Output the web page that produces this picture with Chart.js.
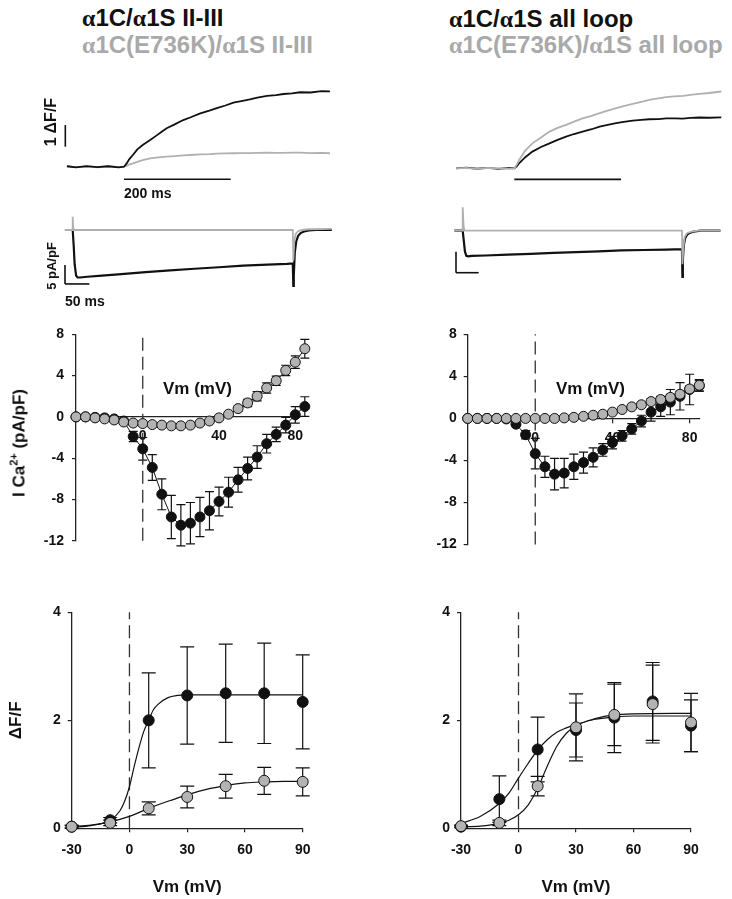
<!DOCTYPE html>
<html>
<head>
<meta charset="utf-8">
<script src="https://cdn.jsdelivr.net/npm/chart.js@4.4.1/dist/chart.umd.min.js"></script>
<style>
  body { margin: 0; background: #fff; width: 732px; height: 899px; position: relative; overflow: hidden;
         font-family: "Liberation Sans", Arial, sans-serif; font-weight: bold; color: #111; }
  canvas, .lbl { position: absolute; }
  .lbl { white-space: nowrap; line-height: 1; }
  .grey { color: #a9a9a9; }
  .rot { transform: translate(-50%, -50%) rotate(-90deg); }
  .al { font-family: "Liberation Serif", serif; }
  sup { font-size: 11px; line-height: 0; }
</style>
</head>
<body>
<canvas id="fluoL" width="300" height="130" style="left:40px;top:70px"></canvas>
<canvas id="fluoR" width="310" height="130" style="left:420px;top:70px"></canvas>
<canvas id="curL" width="300" height="100" style="left:40px;top:195px"></canvas>
<canvas id="curR" width="320" height="100" style="left:410px;top:195px"></canvas>
<canvas id="ivL" width="330" height="250" style="left:0;top:310px"></canvas>
<canvas id="ivR" width="366" height="250" style="left:366px;top:310px"></canvas>
<canvas id="fvL" width="340" height="309" style="left:0;top:590px"></canvas>
<canvas id="fvR" width="366" height="309" style="left:366px;top:590px"></canvas>

<div class="lbl" style="left:82px;top:6px;font-size:24px"><span class="al">α</span>1C/<span class="al">α</span>1S II-III</div>
<div class="lbl grey" style="left:82px;top:33px;font-size:24px"><span class="al">α</span>1C(E736K)/<span class="al">α</span>1S II-III</div>
<div class="lbl" style="left:449px;top:7px;font-size:24px"><span class="al">α</span>1C/<span class="al">α</span>1S all loop</div>
<div class="lbl grey" style="left:449px;top:33px;font-size:24px"><span class="al">α</span>1C(E736K)/<span class="al">α</span>1S all loop</div>
<div class="lbl rot" style="left:51px;top:122px;font-size:16px">1 ΔF/F</div>
<div class="lbl" style="left:124px;top:186px;font-size:14px">200 ms</div>
<div class="lbl rot" style="left:51px;top:266px;font-size:13px">5 pA/pF</div>
<div class="lbl" style="left:65px;top:294px;font-size:14px">50 ms</div>
<div class="lbl" style="left:163px;top:380px;font-size:17px">Vm (mV)</div>
<div class="lbl" style="left:556px;top:380px;font-size:17px">Vm (mV)</div>
<div class="lbl rot" style="left:19px;top:443px;font-size:17px">I Ca<sup>2+</sup> (pA/pF)</div>

<script>
// ---- fluorescence traces (dF/F against ms from pulse onset) ----
const fluoTimeL  = [-107, -90, -70, -50, -30, -10, 0, 5, 10, 17, 25, 35, 49, 60, 70, 80, 95, 111, 125, 143, 160, 174, 190, 205, 220, 236, 250, 268, 285, 299, 315, 330, 350, 370, 386];
const fluoBlackL = [0.02, -0.03, 0.03, -0.02, 0.02, -0.03, 0, 0.15, 0.35, 0.55, 0.8, 1.0, 1.23, 1.42, 1.6, 1.77, 1.95, 2.15, 2.28, 2.46, 2.58, 2.7, 2.82, 2.95, 3.02, 3.1, 3.18, 3.26, 3.3, 3.35, 3.38, 3.43, 3.42, 3.48, 3.47];
const fluoGreyL  = [0.02, -0.02, 0.01, -0.03, 0.02, -0.02, 0, 0.05, 0.1, 0.15, 0.22, 0.3, 0.38, 0.42, 0.44, 0.46, 0.49, 0.52, 0.54, 0.57, 0.58, 0.6, 0.61, 0.62, 0.63, 0.63, 0.64, 0.65, 0.64, 0.64, 0.65, 0.65, 0.63, 0.64, 0.62];

const fluoTimeR  = [-109, -90, -70, -50, -30, -10, 0, 5, 9, 20, 34, 50, 66, 80, 97, 112, 128, 145, 160, 175, 191, 205, 222, 238, 253, 270, 285, 300, 316, 330, 347, 365, 388];
const fluoBlackR = [0, 0.03, -0.02, 0.02, -0.03, 0.02, 0, 0.1, 0.23, 0.5, 0.77, 0.98, 1.15, 1.3, 1.46, 1.58, 1.69, 1.8, 1.92, 2.0, 2.08, 2.14, 2.2, 2.23, 2.26, 2.27, 2.3, 2.3, 2.29, 2.32, 2.34, 2.33, 2.35];
const fluoGreyR  = [0, 0.02, -0.03, 0.02, 0, -0.02, 0, 0.18, 0.38, 0.8, 1.15, 1.42, 1.69, 1.85, 2.0, 2.15, 2.3, 2.42, 2.54, 2.66, 2.77, 2.87, 2.97, 3.06, 3.15, 3.22, 3.28, 3.31, 3.34, 3.38, 3.43, 3.47, 3.54];

// ---- current traces (pA/pF against ms) ----
const curTimeBlackL = [-16, 0, 2, 4, 7, 10, 15, 30, 60, 100, 150, 200, 250, 300, 350, 400, 440, 452, 453, 454, 456, 459, 463, 468, 475, 485, 500, 520, 532];
const curBlackL     = [0, 0, -4, -9, -12, -12.5, -12.5, -12.3, -12.0, -11.6, -11.1, -10.6, -10.2, -9.8, -9.4, -9.1, -8.9, -8.8, -14.7, -12, -6, -3, -1.5, -0.8, -0.4, -0.1, 0, 0, 0];
const curTimeGreyL  = [-16, -1, 0, 1, 3, 100, 200, 300, 400, 452, 453, 455, 458, 462, 470, 485, 532];
const curGreyL      = [0, 0, 3.5, 0.5, 0, 0, 0, 0, 0, 0, -8, -3, -1, -0.4, 0, 0.2, 0.3];

const curTimeBlackR = [-18, 0, 2, 5, 8, 12, 20, 50, 100, 150, 200, 250, 300, 350, 400, 450, 484, 485, 486, 488, 491, 495, 500, 510, 525, 545, 569];
const curBlackR     = [0, 0, -2, -5, -6, -6.1, -6.0, -5.9, -5.7, -5.5, -5.3, -5.1, -4.9, -4.7, -4.6, -4.5, -4.4, -11, -7, -3.5, -1.8, -1, -0.6, -0.2, 0, 0, 0];
const curTimeGreyR  = [-18, -1, 0, 2, 4, 100, 200, 300, 400, 484, 485, 487, 490, 495, 505, 520, 569];
const curGreyR      = [0, 0, 5.6, 1, 0, 0, 0, 0, 0, 0, -8, -4, -1.5, -0.6, -0.2, 0, 0];

// ---- I-V relations ----
const ivVm = [-35, -30, -25, -20, -15, -10, -5, 0, 5, 10, 15, 20, 25, 30, 35, 40, 45, 50, 55, 60, 65, 70, 75, 80, 85];
const ivGreyL     = [0, 0, -0.1, -0.2, -0.3, -0.5, -0.6, -0.65, -0.75, -0.8, -0.87, -0.87, -0.8, -0.6, -0.4, -0.1, 0.26, 0.8, 1.35, 2.0, 2.8, 3.5, 4.5, 5.3, 6.6];
const ivGreyErrL  = [0.15, 0.15, 0.15, 0.15, 0.15, 0.15, 0.15, 0.15, 0.15, 0.15, 0.15, 0.15, 0.15, 0.15, 0.15, 0.15, 0.2, 0.25, 0.35, 0.45, 0.5, 0.45, 0.5, 0.6, 0.9];
const ivBlackL    = [0, 0, -0.05, -0.1, -0.2, -0.4, -1.9, -3.1, -4.9, -7.5, -9.7, -10.5, -10.3, -9.7, -9.1, -8.2, -7.3, -6.1, -5.0, -3.9, -2.6, -1.7, -0.8, 0.2, 1.0];
const ivBlackErrL = [0.1, 0.1, 0.1, 0.1, 0.1, 0.1, 0.5, 1.1, 1.25, 1.5, 2.1, 2.0, 2.0, 1.9, 1.85, 1.4, 1.45, 1.2, 1.1, 1.1, 0.9, 0.7, 0.75, 0.8, 0.95];

const ivGreyR     = [0, 0, 0, 0, 0, 0, 0, 0, 0, 0, 0.05, 0.1, 0.2, 0.3, 0.4, 0.6, 0.85, 1.1, 1.3, 1.6, 1.8, 2.0, 2.3, 2.8, 3.15];
const ivGreyErrR  = [0.1, 0.1, 0.1, 0.1, 0.1, 0.1, 0.1, 0.1, 0.1, 0.1, 0.1, 0.1, 0.1, 0.1, 0.1, 0.1, 0.15, 0.2, 0.2, 0.25, 0.3, 0.3, 0.3, 0.3, 0.55];
const ivBlackR    = [0, 0, 0, 0, -0.05, -0.55, -1.55, -3.35, -4.6, -5.3, -5.2, -4.6, -4.2, -3.7, -3.0, -2.3, -1.65, -1.0, -0.25, 0.6, 1.1, 1.55, 2.1, 2.75, 3.1];
const ivBlackErrR = [0.05, 0.05, 0.05, 0.05, 0.05, 0.2, 0.4, 1.45, 1.0, 1.5, 1.4, 1.2, 1.0, 0.9, 0.6, 0.6, 0.5, 0.5, 0.55, 0.85, 0.9, 1.2, 1.3, 1.45, 0.5];
const ivTicksX = [0, 40, 80];
const ivTicksY = [-12, -8, -4, 0, 4, 8];

// ---- F-V relations ----
const fvVm = [-30, -10, 10, 30, 50, 70, 90];
const fvBlackL    = [0.03, 0.15, 2.0, 2.46, 2.5, 2.5, 2.34];
const fvBlackErrL = [0.03, 0.05, 0.88, 0.9, 0.91, 0.93, 0.87];
const fvGreyL     = [0.03, 0.1, 0.37, 0.58, 0.78, 0.88, 0.86];
const fvGreyErrL  = [0.02, 0.05, 0.12, 0.2, 0.22, 0.25, 0.26];
const fvBlackR    = [0.03, 0.54, 1.46, 1.82, 2.05, 2.35, 1.9];
const fvBlackErrR = [0.02, 0.43, 0.6, 0.5, 0.65, 0.72, 0.48];
const fvGreyR     = [0.04, 0.1, 0.78, 1.87, 2.1, 2.3, 1.96];
const fvGreyErrR  = [0.02, 0.05, 0.18, 0.62, 0.57, 0.72, 0.54];

// fitted curves
const fitVmBlackL = [-30, -20, -10, -5, -2.5, 0, 2.5, 5, 7.5, 10, 12.5, 15, 20, 25, 30, 60, 90];
const fitBlackL   = [0.02, 0.05, 0.15, 0.32, 0.5, 0.77, 1.15, 1.5, 1.8, 2.0, 2.2, 2.3, 2.42, 2.46, 2.47, 2.47, 2.47];
const fitVmGreyL  = [-30, -20, -10, 0, 10, 20, 30, 40, 50, 60, 70, 80, 90];
const fitGreyL    = [0.03, 0.06, 0.12, 0.22, 0.37, 0.5, 0.62, 0.72, 0.79, 0.84, 0.86, 0.87, 0.87];
const fitVmR      = [-30, -20, -10, -5, 0, 5, 10, 15, 20, 25, 30, 40, 50, 60, 90];
const fitBlackR   = [0.09, 0.22, 0.46, 0.65, 0.93, 1.2, 1.45, 1.64, 1.78, 1.86, 1.92, 2.02, 2.06, 2.08, 2.08];
const fitGreyR    = [0.03, 0.04, 0.09, 0.15, 0.25, 0.43, 0.74, 1.15, 1.52, 1.76, 1.9, 2.03, 2.1, 2.12, 2.13];

Chart.defaults.font.family = '"Liberation Sans", Arial, sans-serif';
Chart.defaults.font.weight = 'bold';
Chart.defaults.color = '#111';
const INK = '#111';
const GREY = '#b3b3b3';
const TRACE_GREY = '#b0b0b0';

const pts = (xs, ys) => xs.map((x, i) => ({ x, y: ys[i] }));

// vertical error bars with caps, drawn under the markers
const errorBars = {
  id: 'errorBars',
  beforeDatasetsDraw(chart) {
    const { ctx, scales: { x, y } } = chart;
    ctx.save();
    ctx.strokeStyle = INK;
    ctx.lineWidth = 1.2;
    chart.data.datasets.forEach(ds => {
      if (!ds.errors) return;
      ds.data.forEach((p, i) => {
        const e = ds.errors[i];
        const px = x.getPixelForValue(p.x);
        const top = y.getPixelForValue(p.y + e);
        const bot = y.getPixelForValue(p.y - e);
        ctx.beginPath();
        ctx.moveTo(px, top); ctx.lineTo(px, bot);
        ctx.moveTo(px - ds.cap, top); ctx.lineTo(px + ds.cap, top);
        ctx.moveTo(px - ds.cap, bot); ctx.lineTo(px + ds.cap, bot);
        ctx.stroke();
      });
    });
    ctx.restore();
  }
};

// scale bars given in data units [x0, y0, x1, y1]
function scaleBars(bars) {
  return {
    id: 'scaleBars',
    afterDatasetsDraw(chart) {
      const { ctx, scales: { x, y } } = chart;
      ctx.save();
      ctx.strokeStyle = INK;
      ctx.lineWidth = 1.6;
      bars.forEach(b => {
        ctx.beginPath();
        ctx.moveTo(x.getPixelForValue(b[0]), y.getPixelForValue(b[1]));
        ctx.lineTo(x.getPixelForValue(b[2]), y.getPixelForValue(b[3]));
        ctx.stroke();
      });
      ctx.restore();
    }
  };
}

// g: origin in canvas px (ox, oy) and px per unit (sx, sy)
function traceChart(id, g, sets, bars) {
  const cv = document.getElementById(id);
  return new Chart(cv, {
    type: 'line',
    data: {
      datasets: sets.map(s => ({
        data: s.data, borderColor: s.color, borderWidth: s.w || 1.8,
        pointRadius: 0, tension: 0, clip: false
      }))
    },
    options: {
      responsive: false, animation: false, events: [],
      plugins: { legend: { display: false }, tooltip: { enabled: false } },
      scales: {
        x: { type: 'linear', display: false, min: -g.ox / g.sx, max: (cv.width - g.ox) / g.sx },
        y: { type: 'linear', display: false, min: -(cv.height - g.oy) / g.sy, max: g.oy / g.sy }
      }
    },
    plugins: [scaleBars(bars)]
  });
}

traceChart('fluoL', { ox: 84, oy: 96.7, sx: 0.5335, sy: 21.7 }, [
  { data: pts(fluoTimeL, fluoBlackL), color: INK },
  { data: pts(fluoTimeL, fluoGreyL), color: TRACE_GREY }
], [[-110, 0.92, -110, 1.92], [0, -0.58, 200, -0.58]]);

traceChart('fluoR', { ox: 94.3, oy: 98.3, sx: 0.5335, sy: 21.7 }, [
  { data: pts(fluoTimeR, fluoGreyR), color: TRACE_GREY },
  { data: pts(fluoTimeR, fluoBlackR), color: INK }
], [[0, -0.51, 200, -0.51]]);

traceChart('curL', { ox: 32.7, oy: 35, sx: 0.487, sy: 3.8 }, [
  { data: pts(curTimeGreyL, curGreyL), color: TRACE_GREY },
  { data: pts(curTimeBlackL, curBlackL), color: INK, w: 2.2 }
], [[-15.8, -9.2, -15.8, -14.2], [-15.8, -14.2, 34.2, -14.2]]);

traceChart('curR', { ox: 52.7, oy: 35.7, sx: 0.453, sy: 4.2 }, [
  { data: pts(curTimeGreyR, curGreyR), color: TRACE_GREY },
  { data: pts(curTimeBlackR, curBlackR), color: INK, w: 2.2 }
], [[-14.8, -5, -14.8, -10], [-14.8, -10, 35.2, -10]]);

const tickFont = { size: 14, weight: 'bold' };
const axisGrid = { drawOnChartArea: false, tickLength: 4, color: '#222', lineWidth: 1.2 };
const axisBorder = { color: '#222', width: 1.3 };

function markers(xs, ys, errs, fill, r, cap, line) {
  return {
    data: pts(xs, ys), errors: errs, cap,
    showLine: line, borderColor: INK, borderWidth: 1,
    pointRadius: r, pointBackgroundColor: fill, pointBorderColor: INK, pointBorderWidth: 1,
    clip: false
  };
}
function dashed(ymin, ymax) {
  return { data: [{ x: 0, y: ymin }, { x: 0, y: ymax }], borderColor: '#333', borderWidth: 1.3,
           borderDash: [13, 6], pointRadius: 0, clip: false };
}
function curve(xs, ys) {
  return { data: pts(xs, ys), borderColor: INK, borderWidth: 1.2, pointRadius: 0,
           cubicInterpolationMode: 'monotone', clip: false };
}

function ivChart(id, pad, yWidth, xMax, yPad, grey, greyErr, black, blackErr) {
  return new Chart(document.getElementById(id), {
    type: 'line',
    data: {
      datasets: [
        markers(ivVm, grey, greyErr, GREY, 5, 4.5, true),
        markers(ivVm, black, blackErr, INK, 5, 4.5, true),
        dashed(-12, 8)
      ]
    },
    options: {
      responsive: false, animation: false, events: [],
      layout: { padding: pad },
      plugins: { legend: { display: false }, tooltip: { enabled: false } },
      scales: {
        x: {
          type: 'linear', min: -35, max: xMax, position: { y: 0 },
          afterFit: s => { s.height = 0; },
          afterBuildTicks: s => { s.ticks = ivTicksX.map(v => ({ value: v })); },
          grid: axisGrid, border: axisBorder,
          ticks: { font: tickFont, color: INK, padding: 7, maxRotation: 0, autoSkip: false }
        },
        y: {
          type: 'linear', min: -12, max: 8,
          afterFit: s => { s.width = yWidth; },
          afterBuildTicks: s => { s.ticks = ivTicksY.map(v => ({ value: v })); },
          grid: axisGrid, border: axisBorder,
          ticks: { font: tickFont, color: INK, padding: yPad }
        }
      }
    },
    plugins: [errorBars]
  });
}

ivChart('ivL', { left: 0, top: 24.3, right: 29, bottom: 19.3 }, 76, 83, 8,
        ivGreyL, ivGreyErrL, ivBlackL, ivBlackErrL);
ivChart('ivR', { left: 0, top: 24.3, right: 32.7, bottom: 10.7 }, 101.7, 85, 7,
        ivGreyR, ivGreyErrR, ivBlackR, ivBlackErrR);

function fvChart(id, pad, yWidth, yTitle, sets) {
  return new Chart(document.getElementById(id), {
    type: 'line',
    data: { datasets: sets },
    options: {
      responsive: false, animation: false, events: [],
      layout: { padding: pad },
      plugins: { legend: { display: false }, tooltip: { enabled: false } },
      scales: {
        x: {
          type: 'linear', min: -30, max: 90,
          afterFit: s => { s.height = 69; },
          grid: axisGrid, border: axisBorder,
          ticks: { stepSize: 30, font: tickFont, color: INK, padding: 9, maxRotation: 0 },
          title: { display: true, text: 'Vm (mV)', font: { size: 17, weight: 'bold' }, color: INK,
                   padding: { top: 0, bottom: 0 } }
        },
        y: {
          type: 'linear', min: 0, max: 4,
          afterFit: s => { s.width = yWidth; },
          grid: axisGrid, border: axisBorder,
          ticks: { stepSize: 2, font: tickFont, color: INK, padding: 7 },
          title: { display: !!yTitle, text: yTitle, font: { size: 17, weight: 'bold' }, color: INK,
                   padding: { top: 6.5, bottom: 0 } }
        }
      }
    },
    plugins: [errorBars]
  });
}

fvChart('fvL', { left: 0, top: 22.3, right: 37.3, bottom: 1.7 }, 71.7, 'ΔF/F', [
  markers(fvVm, fvGreyL, fvGreyErrL, GREY, 5.5, 7, false),
  markers(fvVm, fvBlackL, fvBlackErrL, INK, 5.5, 7, false),
  curve(fitVmGreyL, fitGreyL),
  curve(fitVmBlackL, fitBlackL),
  dashed(0, 4)
]);

fvChart('fvR', { left: 0, top: 22.3, right: 41, bottom: 1.7 }, 95, '', [
  markers(fvVm, fvGreyR, fvGreyErrR, GREY, 5.5, 7, false),
  markers(fvVm, fvBlackR, fvBlackErrR, INK, 5.5, 7, false),
  curve(fitVmR, fitGreyR),
  curve(fitVmR, fitBlackR),
  dashed(0, 4)
]);
</script>
</body>
</html>
